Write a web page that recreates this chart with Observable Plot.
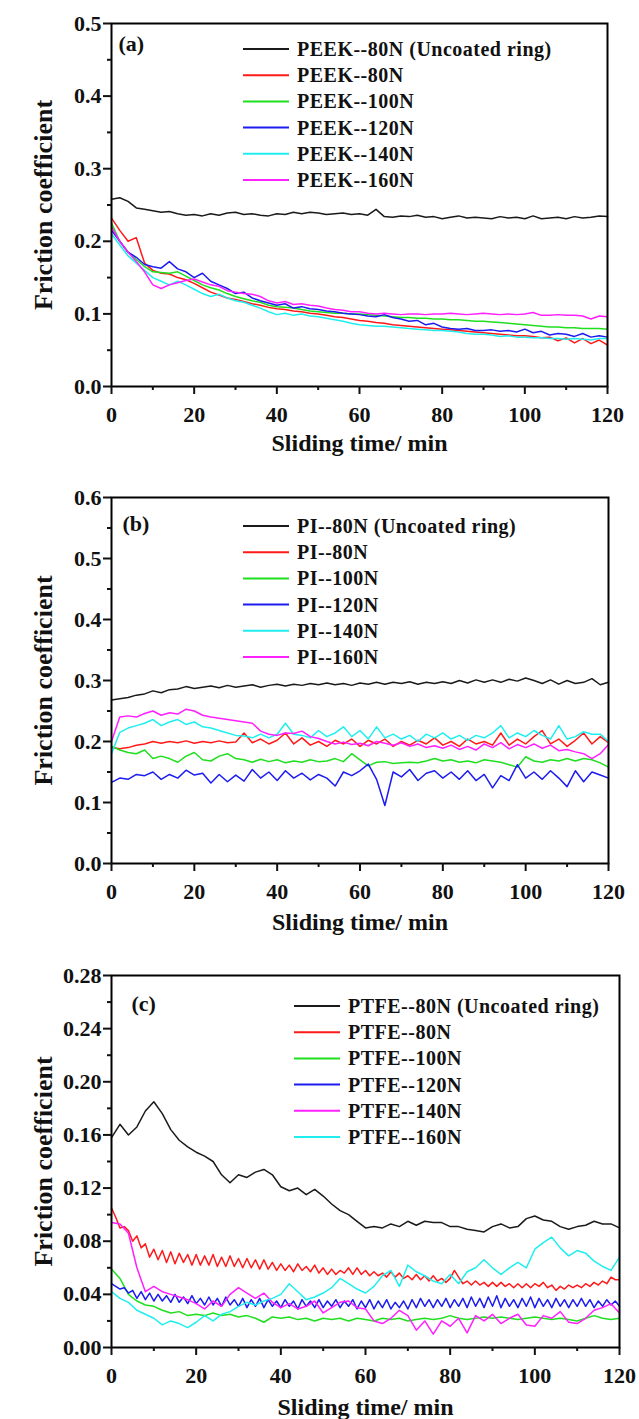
<!DOCTYPE html>
<html><head><meta charset="utf-8">
<script src="https://cdn.jsdelivr.net/npm/d3@7"></script>
<script src="https://cdn.jsdelivr.net/npm/@observablehq/plot@0.6"></script>
<style>body{margin:0;background:#fff;} svg{display:block;}</style>
</head><body><div id="chart"></div>
<script>
// ---- shared sampling times (min) ----
const time2 = [0,2,4,6,8,10,12,14,16,18,20,22,24,26,28,30,32,34,36,38,40,42,44,46,48,50,52,54,56,58,60,62,64,66,68,70,72,74,76,78,80,82,84,86,88,90,92,94,96,98,100,102,104,106,108,110,112,114,116,118,120];
const time1 = [0,1,2,3,4,5,6,7,8,9,10,11,12,13,14,15,16,17,18,19,20,21,22,23,24,25,26,27,28,29,30,31,32,33,34,35,36,37,38,39,40,41,42,43,44,45,46,47,48,49,50,51,52,53,54,55,56,57,58,59,60,61,62,63,64,65,66,67,68,69,70,71,72,73,74,75,76,77,78,79,80,81,82,83,84,85,86,87,88,89,90,91,92,93,94,95,96,97,98,99,100,101,102,103,104,105,106,107,108,109,110,111,112,113,114,115,116,117,118,119,120];

const xMajor = [0,20,40,60,80,100,120];
const xMinor = [10,30,50,70,90,110];
const seriesColors = ["#1a1a1a","#ff1a1a","#1fdf1f","#1c1cf0","#20eeee","#ff20ff"];

// ---- (a) PEEK ----
const peekNames = ["PEEK--80N (Uncoated ring)","PEEK--80N","PEEK--100N","PEEK--120N","PEEK--140N","PEEK--160N"];
const peekUncoated = [0.258,0.260,0.255,0.246,0.244,0.242,0.240,0.241,0.238,0.236,0.237,0.235,0.238,0.236,0.239,0.240,0.237,0.238,0.236,0.235,0.238,0.237,0.240,0.238,0.240,0.239,0.237,0.238,0.239,0.237,0.238,0.236,0.244,0.234,0.233,0.235,0.234,0.236,0.233,0.234,0.231,0.233,0.235,0.232,0.233,0.232,0.231,0.234,0.232,0.233,0.231,0.235,0.231,0.232,0.233,0.231,0.234,0.232,0.233,0.235,0.234];
const peek80 = [0.232,0.215,0.200,0.205,0.170,0.160,0.156,0.155,0.150,0.147,0.142,0.136,0.130,0.126,0.122,0.120,0.117,0.114,0.112,0.109,0.107,0.106,0.104,0.103,0.101,0.100,0.098,0.096,0.095,0.093,0.091,0.090,0.088,0.087,0.085,0.084,0.083,0.082,0.081,0.080,0.079,0.078,0.077,0.076,0.075,0.074,0.073,0.072,0.071,0.070,0.070,0.069,0.067,0.068,0.063,0.067,0.060,0.066,0.059,0.064,0.057];
const peek100 = [0.225,0.200,0.185,0.175,0.165,0.158,0.157,0.156,0.158,0.152,0.146,0.140,0.136,0.133,0.128,0.124,0.121,0.118,0.116,0.112,0.110,0.109,0.108,0.106,0.104,0.103,0.102,0.101,0.101,0.100,0.100,0.099,0.098,0.097,0.096,0.095,0.095,0.094,0.094,0.093,0.093,0.092,0.092,0.091,0.090,0.090,0.089,0.088,0.087,0.086,0.085,0.084,0.083,0.082,0.082,0.081,0.081,0.080,0.080,0.080,0.079];
const peek120 = [0.215,0.200,0.185,0.178,0.168,0.165,0.163,0.172,0.162,0.158,0.150,0.156,0.145,0.140,0.135,0.128,0.130,0.122,0.118,0.115,0.112,0.114,0.108,0.110,0.107,0.106,0.104,0.103,0.101,0.100,0.099,0.097,0.096,0.099,0.095,0.093,0.090,0.091,0.085,0.087,0.082,0.080,0.079,0.080,0.077,0.077,0.078,0.076,0.077,0.075,0.079,0.074,0.076,0.071,0.073,0.072,0.069,0.073,0.068,0.070,0.068];
const peek140 = [0.210,0.195,0.180,0.170,0.160,0.150,0.145,0.140,0.145,0.140,0.134,0.128,0.124,0.127,0.122,0.118,0.116,0.112,0.108,0.103,0.099,0.101,0.098,0.100,0.097,0.096,0.094,0.092,0.090,0.087,0.085,0.084,0.083,0.083,0.082,0.081,0.080,0.079,0.078,0.077,0.077,0.076,0.075,0.073,0.072,0.072,0.071,0.069,0.070,0.068,0.068,0.067,0.067,0.066,0.066,0.065,0.066,0.065,0.064,0.066,0.066];
const peek160 = [0.220,0.200,0.185,0.172,0.158,0.140,0.135,0.140,0.143,0.146,0.148,0.144,0.140,0.138,0.132,0.130,0.128,0.127,0.124,0.118,0.115,0.117,0.113,0.114,0.112,0.111,0.108,0.106,0.105,0.103,0.103,0.101,0.100,0.101,0.100,0.099,0.100,0.100,0.099,0.100,0.100,0.101,0.100,0.099,0.100,0.101,0.100,0.099,0.100,0.099,0.100,0.102,0.098,0.098,0.099,0.098,0.098,0.097,0.093,0.097,0.096];
const peekYMajor = [0,0.1,0.2,0.3,0.4,0.5];
const peekYMinor = [0.05,0.15,0.25,0.35,0.45];

// ---- (b) PI ----
const piNames = ["PI--80N (Uncoated ring)","PI--80N","PI--100N","PI--120N","PI--140N","PI--160N"];
const piUncoated = [0.268,0.270,0.272,0.276,0.278,0.283,0.280,0.285,0.286,0.290,0.287,0.289,0.291,0.288,0.292,0.289,0.291,0.293,0.289,0.292,0.294,0.291,0.294,0.292,0.295,0.293,0.296,0.293,0.295,0.292,0.296,0.294,0.297,0.294,0.297,0.295,0.298,0.294,0.297,0.295,0.298,0.295,0.300,0.296,0.301,0.297,0.301,0.297,0.302,0.299,0.304,0.300,0.295,0.301,0.294,0.300,0.295,0.297,0.303,0.293,0.297];
const pi80 = [0.190,0.188,0.190,0.194,0.196,0.200,0.197,0.200,0.198,0.201,0.197,0.200,0.198,0.201,0.198,0.199,0.214,0.198,0.204,0.196,0.202,0.214,0.196,0.206,0.194,0.200,0.192,0.202,0.196,0.204,0.192,0.202,0.196,0.204,0.192,0.200,0.194,0.202,0.196,0.206,0.194,0.200,0.192,0.204,0.196,0.200,0.194,0.214,0.194,0.204,0.196,0.208,0.218,0.196,0.204,0.192,0.202,0.214,0.196,0.208,0.198];
const pi100 = [0.192,0.186,0.182,0.180,0.186,0.172,0.176,0.172,0.166,0.176,0.182,0.170,0.168,0.176,0.180,0.172,0.170,0.166,0.171,0.167,0.170,0.165,0.168,0.166,0.170,0.167,0.168,0.172,0.167,0.180,0.170,0.160,0.166,0.167,0.164,0.165,0.166,0.165,0.168,0.172,0.168,0.170,0.166,0.168,0.165,0.170,0.168,0.166,0.162,0.158,0.175,0.168,0.166,0.170,0.168,0.172,0.168,0.172,0.170,0.165,0.158];
const pi120 = [0.133,0.140,0.138,0.146,0.144,0.150,0.138,0.146,0.140,0.153,0.145,0.148,0.132,0.146,0.134,0.145,0.135,0.154,0.140,0.150,0.136,0.152,0.140,0.148,0.137,0.146,0.140,0.127,0.150,0.144,0.152,0.163,0.138,0.095,0.150,0.142,0.154,0.136,0.148,0.152,0.140,0.150,0.138,0.152,0.136,0.146,0.124,0.144,0.136,0.162,0.140,0.150,0.138,0.152,0.140,0.126,0.152,0.134,0.150,0.145,0.140];
const pi140 = [0.180,0.215,0.222,0.226,0.230,0.236,0.226,0.232,0.236,0.228,0.232,0.224,0.222,0.218,0.214,0.210,0.209,0.206,0.212,0.206,0.212,0.230,0.212,0.210,0.206,0.218,0.208,0.214,0.224,0.208,0.218,0.204,0.224,0.206,0.212,0.204,0.210,0.200,0.212,0.206,0.214,0.204,0.210,0.202,0.210,0.206,0.214,0.226,0.206,0.214,0.208,0.218,0.210,0.204,0.226,0.204,0.208,0.216,0.212,0.212,0.200];
const pi160 = [0.200,0.240,0.242,0.240,0.246,0.250,0.243,0.247,0.245,0.253,0.250,0.243,0.240,0.238,0.236,0.234,0.232,0.230,0.217,0.212,0.210,0.214,0.213,0.217,0.208,0.205,0.200,0.196,0.199,0.195,0.197,0.193,0.200,0.197,0.194,0.198,0.192,0.196,0.190,0.193,0.189,0.194,0.187,0.192,0.186,0.196,0.190,0.198,0.188,0.195,0.190,0.196,0.189,0.194,0.185,0.187,0.183,0.180,0.172,0.180,0.195];
const piYMajor = [0,0.1,0.2,0.3,0.4,0.5,0.6];
const piYMinor = [0.05,0.15,0.25,0.35,0.45,0.55];

// ---- (c) PTFE ----
const ptfeNames = ["PTFE--80N (Uncoated ring)","PTFE--80N","PTFE--100N","PTFE--120N","PTFE--140N","PTFE--160N"];
const ptfeColors = ["#1a1a1a","#ff1a1a","#1fdf1f","#1c1cf0","#ff20ff","#20eeee"];
const ptfeUncoated = [0.158,0.168,0.160,0.166,0.178,0.185,0.176,0.164,0.156,0.151,0.147,0.144,0.140,0.130,0.124,0.130,0.128,0.132,0.134,0.130,0.121,0.118,0.120,0.115,0.119,0.114,0.108,0.103,0.100,0.095,0.090,0.091,0.090,0.093,0.091,0.095,0.092,0.095,0.094,0.094,0.091,0.091,0.089,0.088,0.087,0.091,0.093,0.090,0.091,0.097,0.099,0.096,0.095,0.091,0.089,0.091,0.092,0.095,0.093,0.093,0.090];
const ptfe80 = [0.105,0.098,0.090,0.091,0.088,0.080,0.084,0.075,0.078,0.068,0.074,0.066,0.073,0.064,0.072,0.063,0.071,0.064,0.070,0.062,0.070,0.062,0.069,0.062,0.070,0.061,0.068,0.061,0.069,0.061,0.067,0.060,0.067,0.060,0.066,0.059,0.066,0.059,0.064,0.058,0.063,0.058,0.062,0.057,0.063,0.058,0.061,0.057,0.062,0.056,0.060,0.055,0.059,0.055,0.058,0.056,0.060,0.055,0.060,0.055,0.058,0.054,0.057,0.054,0.056,0.053,0.057,0.053,0.056,0.052,0.054,0.051,0.055,0.051,0.054,0.050,0.054,0.050,0.052,0.049,0.052,0.058,0.053,0.048,0.050,0.047,0.050,0.047,0.049,0.046,0.049,0.046,0.049,0.046,0.048,0.045,0.048,0.045,0.048,0.045,0.048,0.046,0.049,0.045,0.047,0.043,0.046,0.044,0.047,0.045,0.047,0.045,0.048,0.046,0.049,0.047,0.050,0.048,0.053,0.051,0.051];
const ptfe100 = [0.059,0.052,0.040,0.035,0.032,0.031,0.028,0.026,0.027,0.024,0.025,0.024,0.026,0.024,0.025,0.023,0.024,0.022,0.019,0.023,0.022,0.023,0.021,0.022,0.020,0.022,0.021,0.022,0.020,0.022,0.021,0.020,0.022,0.021,0.022,0.020,0.021,0.022,0.021,0.022,0.024,0.022,0.021,0.022,0.023,0.022,0.023,0.022,0.021,0.022,0.023,0.022,0.021,0.022,0.021,0.020,0.022,0.024,0.022,0.021,0.022];
const ptfe120 = [0.048,0.046,0.044,0.045,0.041,0.043,0.037,0.042,0.036,0.041,0.035,0.040,0.035,0.039,0.034,0.040,0.034,0.038,0.033,0.039,0.033,0.037,0.032,0.038,0.032,0.037,0.031,0.038,0.032,0.036,0.031,0.037,0.030,0.036,0.031,0.037,0.030,0.036,0.031,0.035,0.030,0.036,0.031,0.035,0.029,0.036,0.031,0.035,0.030,0.036,0.030,0.035,0.031,0.036,0.030,0.035,0.031,0.036,0.029,0.035,0.030,0.036,0.029,0.035,0.030,0.036,0.029,0.034,0.030,0.035,0.029,0.036,0.030,0.037,0.031,0.036,0.030,0.036,0.031,0.037,0.030,0.036,0.031,0.037,0.030,0.038,0.031,0.037,0.030,0.038,0.031,0.039,0.030,0.037,0.031,0.036,0.030,0.037,0.031,0.038,0.030,0.037,0.031,0.036,0.030,0.037,0.031,0.036,0.030,0.036,0.031,0.037,0.031,0.036,0.030,0.035,0.031,0.036,0.032,0.035,0.031];
const ptfe140 = [0.094,0.093,0.086,0.060,0.042,0.046,0.042,0.040,0.038,0.036,0.033,0.029,0.035,0.031,0.040,0.045,0.041,0.037,0.041,0.034,0.030,0.033,0.029,0.031,0.035,0.026,0.030,0.034,0.035,0.030,0.029,0.020,0.018,0.022,0.028,0.024,0.013,0.020,0.010,0.020,0.016,0.022,0.011,0.024,0.020,0.025,0.018,0.022,0.025,0.017,0.016,0.024,0.022,0.027,0.019,0.018,0.022,0.028,0.030,0.033,0.026];
const ptfe160 = [0.042,0.037,0.034,0.028,0.025,0.022,0.017,0.020,0.018,0.015,0.019,0.024,0.020,0.025,0.027,0.031,0.034,0.032,0.035,0.037,0.040,0.048,0.042,0.036,0.038,0.041,0.045,0.052,0.048,0.044,0.041,0.046,0.054,0.058,0.046,0.062,0.057,0.054,0.050,0.048,0.055,0.048,0.057,0.060,0.066,0.060,0.055,0.060,0.064,0.060,0.074,0.079,0.083,0.075,0.069,0.073,0.071,0.065,0.061,0.058,0.068];
const ptfeYMajor = [0,0.04,0.08,0.12,0.16,0.20,0.24,0.28];
const ptfeYMinor = [0.02,0.06,0.10,0.14,0.18,0.22,0.26];

const FONT = "'Liberation Serif', 'Times New Roman', serif";

function panel(cfg) {
  const marks = [];
  cfg.series.forEach((s, i) => {
    const data = s.values.map((v, k) => ({t: s.times[k], v}));
    marks.push(Plot.line(data, {x: "t", y: "v", stroke: cfg.colors[i], strokeWidth: 1.5}));
  });
  marks.push(
    Plot.frame({stroke: "#000", strokeWidth: 2}),
    Plot.axisX({ticks: xMinor, tickSize: 4, tickFormat: () => "", label: null, strokeWidth: 2}),
    Plot.axisX({ticks: xMajor, tickSize: 8, tickPadding: 12, tickFormat: d3.format("d"), label: null, strokeWidth: 2, fontSize: 22}),
    Plot.axisY({ticks: cfg.yMinor, tickSize: 4, tickFormat: () => "", label: null, strokeWidth: 2}),
    Plot.axisY({ticks: cfg.yMajor, tickSize: 8, tickPadding: 2, tickFormat: d3.format(cfg.yFormat), label: null, strokeWidth: 2, fontSize: 22}),
    Plot.text(["Sliding time/ min"], {frameAnchor: "bottom", dy: cfg.xTitleDy, fontSize: 24, textAnchor: "middle", lineAnchor: "middle"}),
    Plot.text(["Friction coefficient"], {frameAnchor: "left", dx: -68, rotate: -90, fontSize: 26, textAnchor: "middle", lineAnchor: "middle"}),
    Plot.text([cfg.tag], {frameAnchor: "top-left", dx: cfg.tagDx, dy: cfg.tagDy, fontSize: 22, textAnchor: "start", lineAnchor: "middle"})
  );
  const svg = Plot.plot({
    width: 639, height: cfg.height,
    marginTop: cfg.mt, marginBottom: cfg.mb, marginLeft: 111, marginRight: cfg.mr,
    x: {domain: [0, 120]},
    y: {domain: cfg.yDomain},
    style: {fontFamily: FONT, fontWeight: "bold", color: "#111", background: "#fff"},
    marks
  });
  // legend inside the frame
  const g = d3.select(svg).append("g").attr("font-family", FONT).attr("font-weight", "bold")
    .attr("font-size", 20).attr("text-anchor", "start");
  cfg.names.forEach((name, i) => {
    const y = cfg.mt + cfg.legY0 + i * 26.2;
    g.append("line").attr("x1", 111 + cfg.legX).attr("x2", 111 + cfg.legX + 46)
      .attr("y1", y).attr("y2", y).attr("stroke", cfg.colors[i]).attr("stroke-width", 2);
    g.append("text").attr("x", 111 + cfg.legX + 54).attr("y", y).attr("dy", "0.35em")
      .attr("text-anchor", "start").attr("letter-spacing", "0.5px").attr("fill", "#111").text(name);
  });
  return svg;
}

const root = document.getElementById("chart");
root.append(panel({
  names: peekNames, colors: seriesColors,
  series: [peekUncoated, peek80, peek100, peek120, peek140, peek160].map(v => ({values: v, times: time2})),
  yDomain: [0, 0.5], yMajor: peekYMajor, yMinor: peekYMinor, yFormat: ".1f",
  height: 470, mt: 23, mb: 84, mr: 32, xTitleDy: 57,
  tag: "(a)", tagDx: 7, tagDy: 20, legX: 132, legY0: 26
}));
root.append(panel({
  names: piNames, colors: seriesColors,
  series: [piUncoated, pi80, pi100, pi120, pi140, pi160].map(v => ({values: v, times: time2})),
  yDomain: [0, 0.6], yMajor: piYMajor, yMinor: piYMinor, yFormat: ".1f",
  height: 480, mt: 27, mb: 87, mr: 31, xTitleDy: 59,
  tag: "(b)", tagDx: 11, tagDy: 26, legX: 132, legY0: 29
}));
root.append(panel({
  names: ptfeNames, colors: ptfeColors,
  series: [
    {values: ptfeUncoated, times: time2},
    {values: ptfe80, times: time1},
    {values: ptfe100, times: time2},
    {values: ptfe120, times: time1},
    {values: ptfe140, times: time2},
    {values: ptfe160, times: time2}
  ],
  yDomain: [0, 0.28], yMajor: ptfeYMajor, yMinor: ptfeYMinor, yFormat: ".2f",
  height: 469, mt: 25, mb: 72, mr: 20, xTitleDy: 60,
  tag: "(c)", tagDx: 20, tagDy: 28, legX: 183, legY0: 31
}));
</script></body></html>
